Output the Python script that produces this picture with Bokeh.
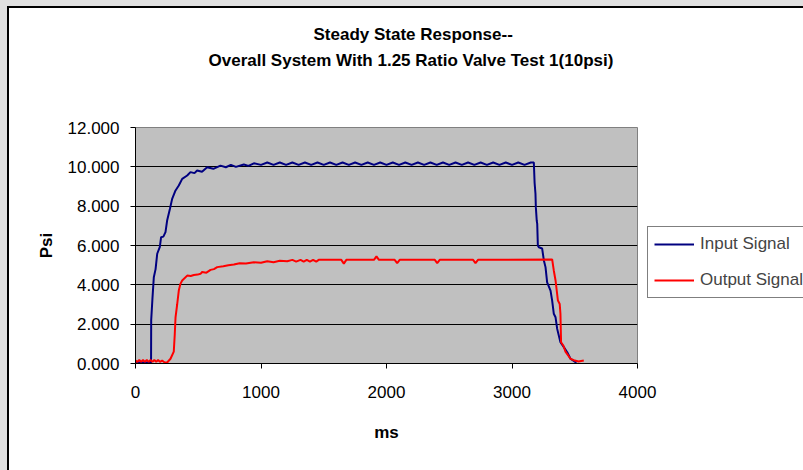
from bokeh.plotting import figure
from bokeh.models import Legend, LegendItem, Title, FixedTicker, NumeralTickFormatter, Range1d
from bokeh.embed import file_html
from bokeh.resources import INLINE

# ---- data (ms, psi) ----
in_rise_t = [0, 40, 80, 110, 124, 125, 135, 146, 160, 173, 194, 204, 222, 239, 252, 274, 292,
             319, 345, 372, 412, 438, 470, 491, 530, 571, 620, 677, 720, 760, 800, 863, 900, 943]
in_rise_p = [0.05, 0.05, 0.05, 0.05, 0.05, 2.19, 3.3, 4.39, 4.8, 5.58, 5.93, 6.42, 6.45, 6.68,
             7.27, 7.86, 8.37, 8.8, 9.05, 9.39, 9.56, 9.73, 9.68, 9.81, 9.75, 9.98, 9.9, 10.06,
             9.98, 10.1, 10.0, 10.12, 10.05, 10.18]
in_plateau_t = [1000, 1050, 1100, 1150, 1200, 1250, 1300, 1350, 1400, 1450,
                1500, 1550, 1600, 1650, 1700, 1750, 1800, 1850, 1900, 1950,
                2000, 2050, 2100, 2150, 2200, 2250, 2300, 2350, 2400, 2450,
                2500, 2550, 2600, 2650, 2700, 2750, 2800, 2850, 2900, 2950,
                3000, 3050, 3100, 3150]
in_plateau_p = [10.10, 10.22, 10.10, 10.22, 10.10, 10.22, 10.10, 10.22, 10.10, 10.22,
                10.10, 10.22, 10.10, 10.22, 10.10, 10.22, 10.10, 10.22, 10.10, 10.22,
                10.10, 10.22, 10.10, 10.22, 10.10, 10.22, 10.10, 10.22, 10.10, 10.22,
                10.10, 10.22, 10.10, 10.22, 10.10, 10.22, 10.10, 10.22, 10.10, 10.22,
                10.10, 10.22, 10.10, 10.22]
in_fall_t = [3174, 3180, 3187, 3190, 3197, 3201, 3206, 3214, 3240, 3254, 3267, 3280, 3307,
             3320, 3333, 3347, 3360, 3386, 3413, 3440, 3466, 3506, 3515]
in_fall_p = [10.22, 9.2, 8.63, 7.95, 7.27, 7.1, 6.0, 5.91, 5.85, 5.24, 4.9, 4.13, 3.71,
             3.2, 2.53, 2.35, 1.76, 1.08, 0.83, 0.57, 0.24, 0.07, 0.07]

out_t = [0, 15, 30, 45, 60, 75, 90, 105, 120, 135, 150, 165, 180, 195, 212, 232, 252,
         279, 305, 313, 319, 332, 345, 358, 372, 412, 440, 465, 495, 518, 531, 565, 598,
         625, 651, 700, 740, 784, 830, 880, 943, 1000, 1050, 1100, 1150, 1209, 1250, 1280,
         1315, 1340, 1365, 1390, 1415, 1440, 1460, 1474, 1640, 1660, 1680, 1900, 1920, 1940,
         2065, 2085, 2105, 2385, 2404, 2424, 2690, 2709, 2729, 3320, 3333, 3347, 3366, 3380,
         3386, 3391, 3410, 3426, 3466, 3500, 3530, 3572]
out_p = [0.15, 0.08, 0.18, 0.08, 0.18, 0.08, 0.18, 0.08, 0.18, 0.08, 0.18, 0.08, 0.18, 0.08,
         0.15, 0.05, 0.05, 0.24, 0.6, 1.5, 2.35, 3.0, 3.71, 4.05, 4.22, 4.47, 4.45, 4.5, 4.52,
         4.56, 4.65, 4.62, 4.76, 4.8, 4.9, 4.95, 5.0, 5.03, 5.1, 5.08, 5.15, 5.12, 5.2, 5.15,
         5.22, 5.2, 5.27, 5.18, 5.27, 5.18, 5.27, 5.18, 5.27, 5.18, 5.27, 5.27, 5.27, 5.08,
         5.27, 5.27, 5.45, 5.27, 5.27, 5.1, 5.27, 5.27, 5.1, 5.27, 5.27, 5.1, 5.27, 5.29,
         4.73, 4.22, 3.2, 3.03, 2.53, 1.08, 0.9, 0.6, 0.24, 0.15, 0.1, 0.15]

x_ticks = [0, 1000, 2000, 3000, 4000]
y_ticks = [0, 2, 4, 6, 8, 10, 12]
title_lines = ["Steady State Response--", "Overall System With 1.25 Ratio Valve Test 1(10psi)"]
series_names = ["Input Signal", "Output Signal"]

in_t = in_rise_t + in_plateau_t + in_fall_t
in_p = in_rise_p + in_plateau_p + in_fall_p

FONT = "Liberation Sans"
GRAY = "#e0e0e0"

p = figure(frame_width=502, frame_height=236, output_backend="svg", toolbar_location=None,
           x_range=Range1d(0, 4000), y_range=Range1d(0, 12),
           min_border_left=126, min_border_right=166, min_border_top=119, min_border_bottom=107)
p.styles = {
    "margin-left": "7px", "margin-top": "6px",
    "border-left": "2px solid black", "border-top": "2px solid black",
    "box-shadow": f"-7px -6px 0 0 {GRAY}, 0 -6px 0 0 {GRAY}, -7px 0 0 0 {GRAY}",
}

p.background_fill_color = "#c0c0c0"
p.border_fill_color = "white"
p.outline_line_color = "#808080"
p.outline_line_width = 1

p.xgrid.visible = False
p.ygrid.grid_line_color = "black"
p.ygrid.grid_line_width = 1
p.ygrid.ticker = FixedTicker(ticks=y_ticks)

for ax in (p.xaxis[0], p.yaxis[0]):
    ax.axis_line_color = "black"
    ax.major_tick_line_color = "black"
    ax.major_tick_in = 0
    ax.major_tick_out = 5
    ax.minor_tick_line_color = None
    ax.major_label_text_font = FONT
    ax.major_label_text_font_size = "17px"
    ax.major_label_text_color = "black"
    ax.axis_label_text_font = FONT
    ax.axis_label_text_font_size = "17px"
    ax.axis_label_text_font_style = "bold"
    ax.axis_label_text_color = "black"

p.xaxis.ticker = FixedTicker(ticks=x_ticks)
p.yaxis.ticker = FixedTicker(ticks=y_ticks)
p.yaxis.formatter = NumeralTickFormatter(format="0.000")
p.xaxis.axis_label = "ms"
p.yaxis.axis_label = "Psi"
p.xaxis.major_label_standoff = 17
p.yaxis.major_label_standoff = 11
p.xaxis.axis_label_standoff = 22
p.yaxis.axis_label_standoff = 9

r_in = p.line(in_t, in_p, line_color="#000080", line_width=2)
r_out = p.line(out_t, out_p, line_color="#ff0000", line_width=2)

legend = Legend(items=[LegendItem(label=series_names[0], renderers=[r_in]),
                       LegendItem(label=series_names[1], renderers=[r_out])],
                location=(10, 65), orientation="vertical",
                border_line_color="black", border_line_width=1,
                background_fill_color="white", background_fill_alpha=1,
                label_text_font=FONT, label_text_font_size="17px",
                glyph_width=40, glyph_height=22, label_height=22, label_standoff=6,
                spacing=14, padding=6, margin=0)
p.add_layout(legend, "right")

# title: spacer nearest the frame, then line 2, then line 1 on top
p.add_layout(Title(text=" ", text_font=FONT, text_font_size="16px", standoff=35), "above")
p.add_layout(Title(text=title_lines[1], align="left", offset=73, vertical_align="middle",
                   text_font=FONT, text_font_size="17px", text_font_style="bold",
                   text_color="black", standoff=5), "above")
p.add_layout(Title(text=title_lines[0], align="left", offset=178, vertical_align="middle",
                   text_font=FONT, text_font_size="17px", text_font_style="bold",
                   text_color="black", standoff=5), "above")

open("out.html", "w").write(file_html(p, INLINE))
